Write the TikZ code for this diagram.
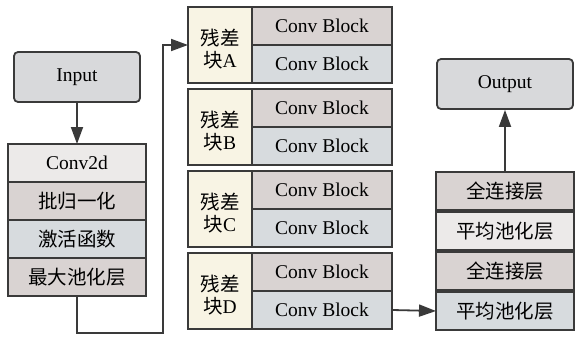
\documentclass[tikz,border=0pt]{standalone}
\usepackage{fontspec}
\setmainfont{Liberation Serif}
\newfontfamily\cjk{Noto Sans CJK SC}
\usetikzlibrary{arrows.meta,positioning}

\definecolor{edge}{HTML}{3A3A3A}
\definecolor{pale}{HTML}{ECEAE9}
\definecolor{rose}{HTML}{D9D3D2}
\definecolor{steel}{HTML}{D7DBDE}
\definecolor{cream}{HTML}{F8F4E4}
\definecolor{term}{HTML}{D8D9DB}

\tikzset{
  cell/.style={draw=edge, line width=1.8pt, inner sep=0pt, outer sep=0pt,
    minimum width=138, minimum height=38,
    font=\fontsize{19.5}{22}\selectfont},
  convcell/.style={cell, minimum width=140},
  tag/.style={draw=edge, line width=1.8pt, fill=cream, inner sep=0pt, outer sep=0pt,
    minimum width=64, minimum height=76},
  tagtext/.style={align=center, inner sep=0pt, font=\fontsize{19.5}{22}\selectfont},
  io/.style={draw=edge, line width=1.8pt, fill=term, rounded corners=4pt,
    inner sep=0pt, minimum width=126, minimum height=50,
    font=\fontsize{19.5}{22}\selectfont},
  flow/.style={draw=edge, line width=1.8pt, >={Triangle[length=17pt,width=12pt]}, ->}
}

\begin{document}
\begin{tikzpicture}[x=1pt,y=-1pt]
\useasboundingbox (0,0) rectangle (576,337);

% input and stem
\node[io] (in) at (77,77) {Input};
\node[cell, fill=pale]  (s1) at (77,163) {Conv2d};
\node[cell, fill=rose]  (s2) at (77,201) {\cjk 批归一化};
\node[cell, fill=steel] (s3) at (77,239) {\cjk 激活函数};
\node[cell, fill=rose]  (s4) at (77,277) {\cjk 最大池化层};

% residual blocks
\foreach \n/\t/\y in {A/A/7, B/B/89, C/C/171, D/D/253}{
  \node[tag] (t\n) at (220,\y+38) {};
  \node[tagtext] at ([yshift=-4pt]t\n.center) {\cjk 残差\\{\cjk 块}\t};
  \node[convcell, fill=rose]  (a\n) at (322,\y+19) {Conv Block};
  \node[convcell, fill=steel] (b\n) at (322,\y+57) {Conv Block};
}

% head
\node[cell, fill=rose]  (h1) at (505,191) {\cjk 全连接层};
\node[cell, fill=pale]  (h2) at (505,231) {\cjk 平均池化层};
\node[cell, fill=rose]  (h3) at (505,271) {\cjk 全连接层};
\node[cell, fill=steel] (h4) at (505,311) {\cjk 平均池化层};
\node[io, minimum width=136] (out) at (505,84) {Output};

% connectors
\coordinate (d1) at (77,333);
\coordinate (d2) at (163,333);
\coordinate (d3) at (163,45);
\draw[flow] (in) -- (s1);
\draw[flow] (s4.south) -- (d1) -- (d2) -- (d3) -- (tA.west);
\draw[flow] (bD.east) -- (h4.west);
\draw[flow] (h1.north) -- (out.south);
\end{tikzpicture}
\end{document}
